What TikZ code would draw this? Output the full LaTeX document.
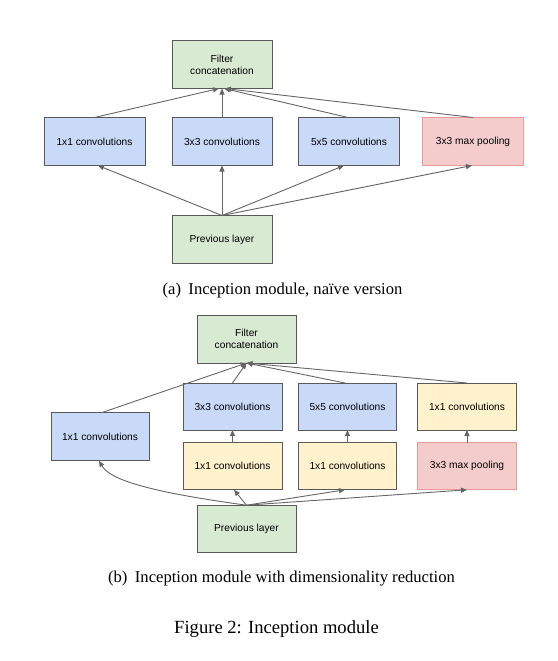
\documentclass[tikz,border=0pt]{standalone}
\usepackage{fontspec}
\setmainfont{Liberation Serif}
\newfontfamily\boxfont{Liberation Sans}
\usetikzlibrary{arrows.meta}
\definecolor{gfill}{HTML}{D9EAD3}
\definecolor{bfill}{HTML}{C9DAF8}
\definecolor{rfill}{HTML}{F4CCCC}
\definecolor{rdraw}{HTML}{E69A9A}
\definecolor{yfill}{HTML}{FFF2CC}
\definecolor{edge}{HTML}{595959}
\definecolor{arr}{HTML}{666666}
\tikzset{
  box/.style={draw=edge, line width=0.9pt, minimum width=100pt, minimum height=48pt,
    inner sep=0pt, outer sep=0pt, align=center, font=\boxfont\fontsize{10.2}{12.2}\selectfont},
  gbox/.style={box, fill=gfill},
  bbox/.style={box, fill=bfill},
  ybox/.style={box, fill=yfill},
  rbox/.style={box, fill=rfill, draw=rdraw},
  conn/.style={draw=arr, line width=0.9pt, -{Triangle[length=6pt,width=5pt]}},
  subcap/.style={font=\fontsize{16.6}{20}\selectfont, inner sep=0pt},
  figcap/.style={font=\fontsize{18.6}{22}\selectfont, inner sep=0pt}
}
\begin{document}
\begin{tikzpicture}[x=1pt,y=-1pt]
\useasboundingbox (0,0) rectangle (557,661);
% (a)
\node[gbox] (fca) at (222,64.5) {Filter\\concatenation};
\node[bbox, minimum width=101pt] (c1a) at (94.5,141.5) {1x1 convolutions};
\node[bbox] (c3a) at (222,141.5) {3x3 convolutions};
\node[bbox, minimum width=101pt] (c5a) at (349,141.5) {5x5 convolutions};
\node[rbox, minimum width=101pt] (mpa) at (473,141.5) {3x3 max pooling};
\node[gbox] (preva) at (222,239.5) {Previous layer};
\draw[conn] (preva.north) -- ([xshift=3.5pt]c1a.south);
\draw[conn] (preva.north) -- (c3a.south);
\draw[conn] (preva.north) -- ([xshift=-5pt]c5a.south);
\draw[conn] (preva.north) -- ([xshift=-1pt]mpa.south);
\draw[conn] (c1a.north) -- ([xshift=-3pt]fca.south);
\draw[conn] (c3a.north) -- (fca.south);
\draw[conn] ([xshift=-1pt]c5a.north) -- ([xshift=2pt]fca.south);
\draw[conn] (mpa.north) -- ([xshift=3pt]fca.south);
\node[subcap] (capa) at (282.5,290.5) {(a)\hspace{0.45em}Inception module, na\"ive version};
% (b)
\node[gbox, minimum width=99pt] (fcb) at (246.5,339) {Filter\\concatenation};
\node[bbox, minimum width=99pt, minimum height=47pt] (c3b) at (232.5,406.5) {3x3 convolutions};
\node[bbox, minimum width=98pt, minimum height=47pt] (c5b) at (347.5,406.5) {5x5 convolutions};
\node[ybox, minimum width=99pt, minimum height=47pt] (r1b) at (467,406.5) {1x1 convolutions};
\node[bbox, minimum width=98pt] (c1b) at (100,436.7) {1x1 convolutions};
\node[ybox, minimum width=99pt, minimum height=47pt] (y3b) at (232.5,466.3) {1x1 convolutions};
\node[ybox, minimum width=98pt, minimum height=47pt] (y5b) at (347.5,466.3) {1x1 convolutions};
\node[rbox, minimum width=99pt, minimum height=47pt] (mpb) at (467,466.3) {3x3 max pooling};
\node[gbox, minimum width=99pt, minimum height=47pt] (prevb) at (246.5,528.7) {Previous layer};
\draw[conn] (prevb.north) .. controls (150,492) and (110,480) .. ([xshift=-1pt]c1b.south);
\draw[conn] (prevb.north) -- ([xshift=1.5pt]y3b.south);
\draw[conn] (prevb.north) -- ([xshift=-2.5pt]y5b.south);
\draw[conn] (prevb.north) -- (mpb.south);
\draw[conn] (y3b.north) -- (c3b.south);
\draw[conn] (y5b.north) -- (c5b.south);
\draw[conn] (mpb.north) -- (r1b.south);
\draw[conn] ([xshift=1.5pt]c1b.north) -- (fcb.south);
\draw[conn] (c3b.north) -- (fcb.south);
\draw[conn] ([xshift=-2.5pt]c5b.north) -- (fcb.south);
\draw[conn] (r1b.north) -- (fcb.south);
\node[subcap] (capb) at (281.5,579) {(b)\hspace{0.45em}Inception module with dimensionality reduction};
\node[figcap] (fig) at (276.5,629) {Figure 2: Inception module};
\end{tikzpicture}
\end{document}
